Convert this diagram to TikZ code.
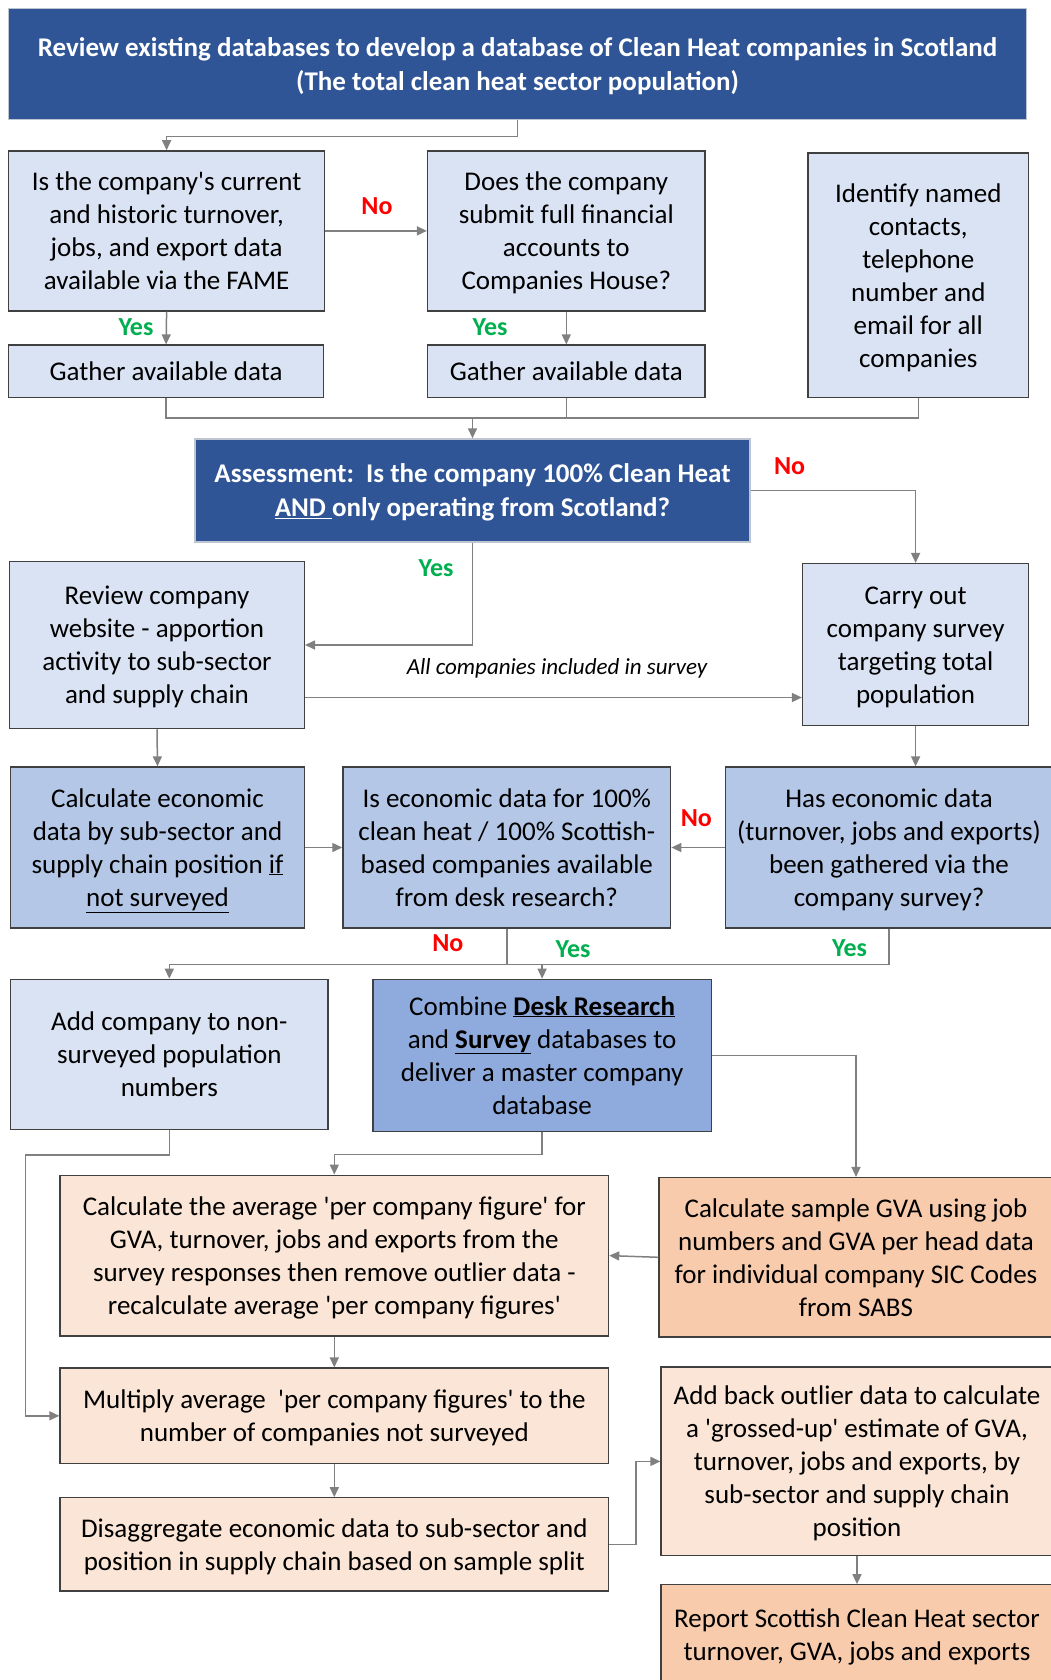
\documentclass[tikz,border=0pt]{standalone}
\usepackage{fontspec}
\newfontfamily\carl{Carlito}
\usetikzlibrary{arrows.meta}
\definecolor{dblue}{HTML}{2F5597}
\definecolor{lblue}{HTML}{DAE3F3}
\definecolor{mblue}{HTML}{B4C7E7}
\definecolor{cblue}{HTML}{8FAADC}
\definecolor{lorange}{HTML}{FBE5D6}
\definecolor{morange}{HTML}{F8CBAD}
\definecolor{conn}{HTML}{808080}
\definecolor{bord}{HTML}{404040}
\definecolor{yesg}{HTML}{00B050}
\definecolor{nor}{HTML}{FF0000}
\newcommand{\fs}{\rule{0pt}{25.7pt}}
\newcommand{\ls}{\rule[-7.3pt]{0pt}{0pt}}
\tikzset{
  base/.style={rectangle, align=center, inner sep=0pt, font=\carl\fontsize{27}{33}\selectfont, text=black, draw=bord, line width=1.3pt},
  lbox/.style={base, fill=lblue},
  mbox/.style={base, fill=mblue},
  cbox/.style={base, fill=cblue},
  obox/.style={base, fill=lorange},
  ombox/.style={base, fill=morange},
  dbox/.style={base, fill=dblue, draw=lblue!70!gray, text=white, font=\carl\bfseries\fontsize{27}{34}\selectfont},
  line/.style={draw=conn, line width=1.5pt},
  arr/.style={line, -{Triangle[length=10pt,width=9pt]}, color=conn},
  yes/.style={text=yesg, font=\carl\bfseries\fontsize{26}{28}\selectfont},
  no/.style={text=nor, font=\carl\bfseries\fontsize{26}{28}\selectfont},
}
\begin{document}
\begin{tikzpicture}[x=1pt,y=-1pt]
\useasboundingbox (0,0) rectangle (1051,1680);
\fill[white] (0,0) rectangle (1051,1680);

\node[dbox, minimum width=1018, minimum height=111] (top) at (517.5,64.3)
 {\fs Review existing databases to develop a database of Clean Heat companies in Scotland\\(The total clean heat sector population)\ls};

\node[lbox, minimum width=316, minimum height=160] (A) at (166.6,230.9)
 {\fs Is the company's current\\and historic turnover,\\jobs, and export data\\available via the FAME\ls};
\node[lbox, minimum width=277.5, minimum height=160] (B) at (566.3,230.9)
 {\fs Does the company\\submit full financial\\accounts to\\Companies House?\ls};
\node[lbox, minimum width=220.6, minimum height=244.5] (C) at (918.3,275.3)
 {\fs Identify named\\contacts,\\telephone\\number and\\email for all\\companies\ls};
\node[lbox, minimum width=315, minimum height=52.5] (G1) at (166.1,371.3) {Gather available data};
\node[lbox, minimum width=277.5, minimum height=52.5] (G2) at (566.3,371.3) {Gather available data};

\node[dbox, minimum width=555, minimum height=103] (assess) at (472.5,490.5)
 {\fs Assessment:\ \ Is the company 100\% Clean Heat\\\underline{AND }only operating from Scotland?\ls};

\node[lbox, minimum width=294.7, minimum height=167.2] (review) at (157,645)
 {\fs Review company\\website - apportion\\activity to sub-sector\\and supply chain\ls};
\node[lbox, minimum width=226.1, minimum height=161.8] (carry) at (915.6,644.5)
 {\fs Carry out\\company survey\\targeting total\\population\ls};

\node[mbox, minimum width=293.6, minimum height=161] (calc) at (157.5,847.5)
 {\fs Calculate economic\\data by sub-sector and\\supply chain position \underline{if}\\\underline{not surveyed}\ls};
\node[mbox, minimum width=327.8, minimum height=161] (isecon) at (506.8,847.5)
 {\fs Is economic data for 100\%\\clean heat / 100\% Scottish-\\based companies available\\from desk research?\ls};
\node[mbox, minimum width=327.7, minimum height=161] (has) at (889,847.5)
 {\fs Has economic data\\(turnover, jobs and exports)\\been gathered via the\\company survey?\ls};

\node[lbox, minimum width=317.2, minimum height=150] (addco) at (169.3,1054.3)
 {\fs Add company to non-\\surveyed population\\numbers\ls};
\node[cbox, minimum width=338.5, minimum height=152] (combine) at (542.1,1055.3)
 {\fs Combine \underline{\textbf{Desk Research}}\\and \underline{\textbf{Survey}} databases to\\deliver a master company\\database\ls};

\node[obox, minimum width=548.6, minimum height=160.8] (calcavg) at (334.3,1255.6)
 {\fs Calculate the average 'per company figure' for\\GVA, turnover, jobs and exports from the\\survey responses then remove outlier data -\\recalculate average 'per company figures'\ls};
\node[ombox, minimum width=394, minimum height=159.5] (sample) at (856,1257.3)
 {\fs Calculate sample GVA using job\\numbers and GVA per head data\\for individual company SIC Codes\\from SABS\ls};

\node[obox, minimum width=548.6, minimum height=95.5] (multiply) at (334.3,1415.8)
 {\fs Multiply average\ \ 'per company figures' to the\\number of companies not surveyed\ls};
\node[obox, minimum width=548.6, minimum height=93.2] (disagg) at (334.3,1544.4)
 {\fs Disaggregate economic data to sub-sector and\\position in supply chain based on sample split\ls};

\node[obox, minimum width=392, minimum height=188.7] (addback) at (857,1461.4)
 {\fs Add back outlier data to calculate\\a 'grossed-up' estimate of GVA,\\turnover, jobs and exports, by\\sub-sector and supply chain\\position\ls};
\node[ombox, minimum width=392, minimum height=100.3] (report) at (857,1634.9)
 {\fs Report Scottish Clean Heat sector\\turnover, GVA, jobs and exports\ls};

% connectors
\draw[arr] (top.south) -- ++(0,16) -| (A.north);
\draw[arr] (A.east) -- (B.west);
\draw[arr] (A.south) -- (G1.north);
\draw[arr] (B.south) -- (G2.north);
\coordinate (m1) at (472.5,418);
\draw[line] (G1.south) |- (m1);
\draw[line] (G2.south) |- (m1);
\draw[line] (C.south) |- (m1);
\draw[arr] (m1) -- (assess.north);

\draw[arr] (assess.east) -| (carry.north);
\draw[arr] (assess.south) |- (review.east);
\coordinate (r1) at (review.east |- 0,697.5);
\coordinate (r2) at (carry.west |- 0,697.5);
\draw[arr] (r1) -- (r2);
\draw[arr] (review.south) -- (calc.north);
\draw[arr] (carry.south) -- (carry.south |- has.north);
\draw[arr] (calc.east) -- (isecon.west);
\draw[arr] (has.west) -- (isecon.east);

\coordinate (m2) at (isecon.south |- 0,964.3);
\draw[line] (isecon.south) -- (m2);
\draw[line] (has.south) |- (m2);
\draw[arr] (m2) -| (addco.north);
\draw[arr] (m2) -| (combine.north);

\draw[arr] (combine.east) -| (sample.north);
\coordinate (c1) at (25.7,1155);
\draw[arr] (addco.south) |- (c1) |- (multiply.west);
\draw[arr] (combine.south) -- ++(0,22.5) -| (calcavg.north);
\draw[arr] (sample.west) -- (calcavg.east);
\draw[arr] (calcavg.south) -- (multiply.north);
\draw[arr] (multiply.south) -- (disagg.north);
\draw[arr] (disagg.east) -- ++(26.7,0) |- (addback.west);
\draw[arr] (addback.south) -- (report.north);

% labels
\node[no] (l1) at (377,206) {No};
\node[yes] (l2) at (136,327) {Yes};
\node[yes] (l3) at (490,327) {Yes};
\node[no] (l4) at (789.6,466) {No};
\node[yes] (l5) at (436,568) {Yes};
\node[font=\carl\itshape\fontsize{23}{28}\selectfont] (l6) at (557,668.6) {All companies included in survey};
\node[no] (l7) at (696.4,818.5) {No};
\node[no] (l8) at (447.8,942.9) {No};
\node[yes] (l9) at (573,949.3) {Yes};
\node[yes] (l10) at (849.6,948.2) {Yes};
\end{tikzpicture}
\end{document}
